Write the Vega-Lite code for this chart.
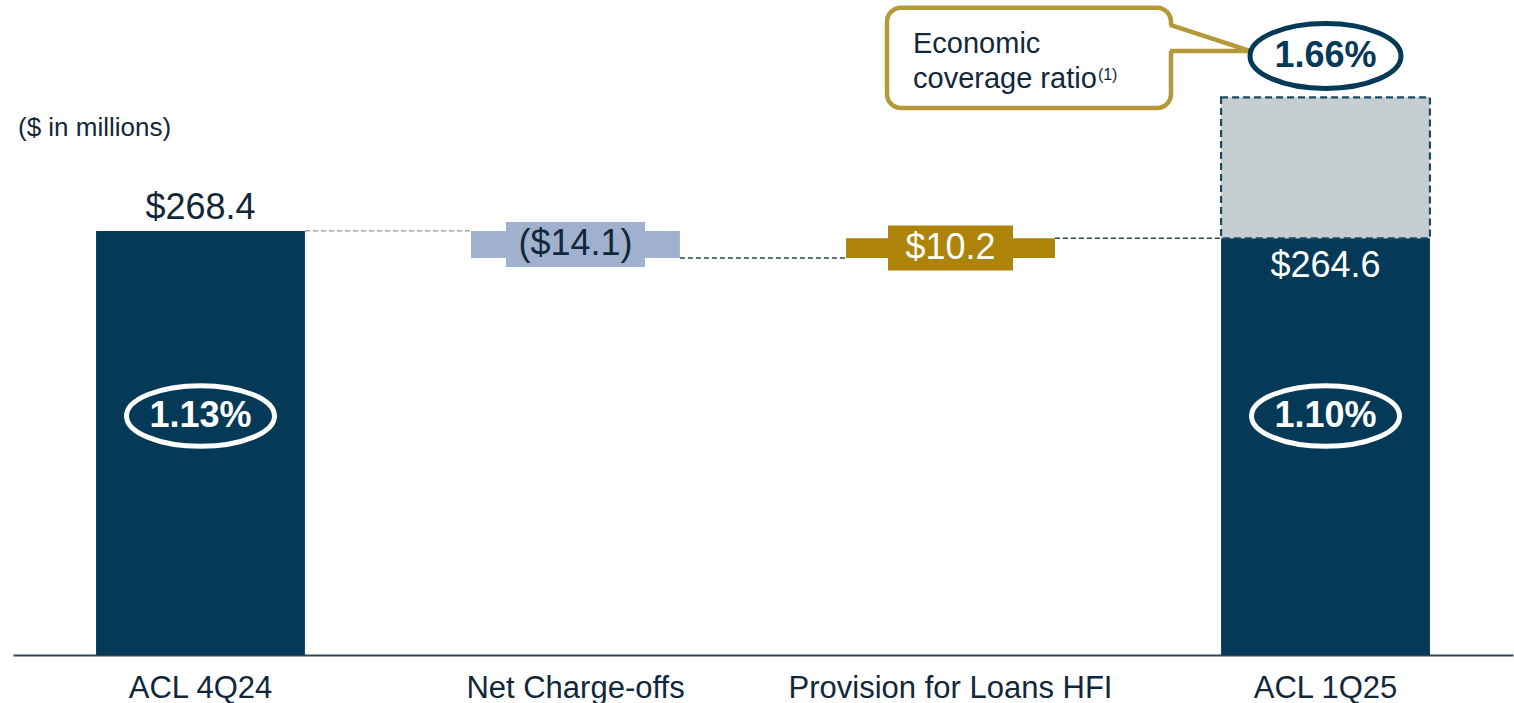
{
  "$schema": "https://vega.github.io/schema/vega-lite/v6.json",
  "width": 1500,
  "height": 655,
  "autosize": {"type": "none"},
  "padding": {"left": 13, "top": 0, "right": 1, "bottom": 48},
  "background": "white",
  "config": {"view": {"stroke": null}, "font": "Liberation Sans"},
  "datasets": {
    "bars": [
      {"cat": "ACL 4Q24", "lo": 0, "hi": 268.4, "kind": "total", "label": "$268.4"},
      {"cat": "Net Charge-offs", "lo": 254.3, "hi": 268.4, "kind": "neg", "label": "($14.1)"},
      {"cat": "Provision for Loans HFI", "lo": 254.3, "hi": 264.6, "kind": "pos", "label": "$10.2"},
      {"cat": "ACL 1Q25", "lo": 0, "hi": 264.6, "kind": "total", "label": "$264.6"}
    ],
    "links": [
      {"from": "ACL 4Q24", "to": "Net Charge-offs", "v": 268.4, "tone": "light"},
      {"from": "Net Charge-offs", "to": "Provision for Loans HFI", "v": 254.3, "tone": "dark"},
      {"from": "Provision for Loans HFI", "to": "ACL 1Q25", "v": 264.6, "tone": "dark"}
    ],
    "econ": [{"cat": "ACL 1Q25", "lo": 264.6, "hi": 338.2}],
    "ratios": [
      {"cat": "ACL 4Q24", "v": 171.8, "txt": "1.13%", "pos": "in"},
      {"cat": "ACL 1Q25", "v": 171.8, "txt": "1.10%", "pos": "in"},
      {"cat": "ACL 1Q25", "v": 359.8, "txt": "1.66%", "pos": "top"}
    ],
    "notes": [
      {"px": 0.0133, "py": 318.0, "t": "($ in millions)", "kind": "unit"},
      {"px": 2.4, "py": 361.4, "t": "Economic", "kind": "call"},
      {"px": 2.4, "py": 343.1, "t": "coverage ratio", "kind": "call"},
      {"px": 2.893, "py": 347.2, "t": "(1)", "kind": "sup"}
    ],
    "callout": [{"x1": 2.3307, "x2": 3.088, "y1": 384.9, "y2": 332.6}],
    "tail": [
      {"seq": 1, "px": 3.0853, "py": 376.0},
      {"seq": 2, "px": 3.2987, "py": 362.4},
      {"seq": 3, "px": 3.0853, "py": 362.4}
    ],
    "tailfill": [
      {"px": 3.072, "top": 376.6, "bot": 362.4},
      {"px": 3.2987, "top": 362.4, "bot": 362.4}
    ]
  },
  "layer": [
    {
      "layer": [
        {
          "data": {"name": "callout"},
          "mark": {"type": "rect", "cornerRadius": 14, "fill": "white", "stroke": "#b5983a", "strokeWidth": 4.5},
          "encoding": {
            "x": {"field": "x1", "type": "quantitative", "scale": {"domain": [0, 4], "nice": false, "zero": false}, "axis": null},
            "x2": {"field": "x2"},
            "y": {"field": "y1", "type": "quantitative", "scale": {"domain": [47, 389], "zero": false, "nice": false}, "axis": null},
            "y2": {"field": "y2"}
          }
        },
        {
          "data": {"name": "tailfill"},
          "mark": {"type": "area", "fill": "white", "opacity": 1},
          "encoding": {
            "x": {"field": "px", "type": "quantitative", "scale": {"domain": [0, 4], "nice": false, "zero": false}, "axis": null},
            "y": {"field": "top", "type": "quantitative", "scale": {"domain": [47, 389], "zero": false, "nice": false}, "axis": null},
            "y2": {"field": "bot"}
          }
        },
        {
          "data": {"name": "tail"},
          "mark": {"type": "line", "stroke": "#b5983a", "strokeWidth": 4.5},
          "encoding": {
            "x": {"field": "px", "type": "quantitative", "scale": {"domain": [0, 4], "nice": false, "zero": false}, "axis": null},
            "y": {"field": "py", "type": "quantitative", "scale": {"domain": [47, 389], "zero": false, "nice": false}, "axis": null},
            "order": {"field": "seq", "type": "quantitative"}
          }
        },
        {
          "data": {"name": "notes"},
          "transform": [{"filter": "datum.kind === 'unit'"}],
          "mark": {"type": "text", "align": "left", "baseline": "alphabetic", "fontSize": 26, "fill": "#13273a"},
          "encoding": {
            "x": {"field": "px", "type": "quantitative", "scale": {"domain": [0, 4], "nice": false, "zero": false}, "axis": null},
            "y": {"field": "py", "type": "quantitative", "scale": {"domain": [47, 389], "zero": false, "nice": false}, "axis": null},
            "text": {"field": "t"}
          }
        },
        {
          "data": {"name": "notes"},
          "transform": [{"filter": "datum.kind === 'call'"}],
          "mark": {"type": "text", "align": "left", "baseline": "alphabetic", "fontSize": 29, "fill": "#13273a"},
          "encoding": {
            "x": {"field": "px", "type": "quantitative", "scale": {"domain": [0, 4], "nice": false, "zero": false}, "axis": null},
            "y": {"field": "py", "type": "quantitative", "scale": {"domain": [47, 389], "zero": false, "nice": false}, "axis": null},
            "text": {"field": "t"}
          }
        },
        {
          "data": {"name": "notes"},
          "transform": [{"filter": "datum.kind === 'sup'"}],
          "mark": {"type": "text", "align": "left", "baseline": "alphabetic", "fontSize": 16, "fill": "#13273a"},
          "encoding": {
            "x": {"field": "px", "type": "quantitative", "scale": {"domain": [0, 4], "nice": false, "zero": false}, "axis": null},
            "y": {"field": "py", "type": "quantitative", "scale": {"domain": [47, 389], "zero": false, "nice": false}, "axis": null},
            "text": {"field": "t"}
          }
        }
      ]
    },
    {
      "layer": [
        {
          "data": {"name": "links"},
          "mark": {"type": "rule", "strokeDash": [5, 3], "strokeWidth": 1.3},
          "encoding": {
            "x": {"field": "from", "type": "nominal", "bandPosition": 0.7785, "scale": {"domain": ["ACL 4Q24", "Net Charge-offs", "Provision for Loans HFI", "ACL 1Q25"], "paddingInner": 0, "paddingOuter": 0}, "axis": {"title": null, "labelFontSize": 31, "labelLimit": 600, "labelColor": "#13273a", "labelFont": "Liberation Sans", "labelPadding": 18, "ticks": false, "domainColor": "#2f4656", "domainWidth": 2, "labelAngle": 0, "grid": false}},
            "x2": {"field": "to", "bandPosition": 0.2215},
            "y": {"field": "v", "type": "quantitative", "scale": {"domain": [47, 389], "zero": false, "nice": false}, "axis": null},
            "color": {"condition": {"test": "datum.tone === 'light'", "value": "#8a959d"}, "value": "#2c4557"}
          }
        },
        {
          "data": {"name": "bars"},
          "mark": {"type": "bar", "width": {"band": 0.557}, "clip": true},
          "encoding": {
            "x": {
              "field": "cat", "type": "nominal",
              "scale": {"domain": ["ACL 4Q24", "Net Charge-offs", "Provision for Loans HFI", "ACL 1Q25"], "paddingInner": 0, "paddingOuter": 0},
              "axis": {"title": null, "labelFontSize": 31, "labelLimit": 600, "labelColor": "#13273a", "labelFont": "Liberation Sans", "labelPadding": 18, "ticks": false, "domainColor": "#2f4656", "domainWidth": 2, "labelAngle": 0, "grid": false}
            },
            "y": {"field": "hi", "type": "quantitative", "scale": {"domain": [47, 389], "zero": false, "nice": false}, "axis": null},
            "y2": {"field": "lo"},
            "color": {"field": "kind", "type": "nominal", "scale": {"domain": ["total", "neg", "pos"], "range": ["#043a58", "#9fb1cf", "#ad8309"]}, "legend": null}
          }
        },
        {
          "data": {"name": "econ"},
          "mark": {"type": "bar", "width": {"band": 0.557}, "fill": "#c6ced2", "stroke": "#1b4a66", "strokeWidth": 2.2, "strokeDash": [7, 4]},
          "encoding": {
            "x": {"field": "cat", "type": "nominal", "scale": {"domain": ["ACL 4Q24", "Net Charge-offs", "Provision for Loans HFI", "ACL 1Q25"], "paddingInner": 0, "paddingOuter": 0}, "axis": {"title": null, "labelFontSize": 31, "labelLimit": 600, "labelColor": "#13273a", "labelFont": "Liberation Sans", "labelPadding": 18, "ticks": false, "domainColor": "#2f4656", "domainWidth": 2, "labelAngle": 0, "grid": false}},
            "y": {"field": "hi", "type": "quantitative", "scale": {"domain": [47, 389], "zero": false, "nice": false}, "axis": null},
            "y2": {"field": "lo"}
          }
        },
        {
          "data": {"name": "bars"},
          "transform": [{"filter": "datum.kind === 'neg'"}, {"fold": ["lo", "hi"], "as": ["end", "val"]}],
          "mark": {"type": "point", "shape": "M -1 -0.324 L 1 -0.324 L 1 0.324 L -1 0.324 Z", "size": 19321, "filled": true, "fill": "#9fb1cf", "strokeWidth": 0, "opacity": 1},
          "encoding": {
            "x": {"field": "cat", "type": "nominal", "scale": {"domain": ["ACL 4Q24", "Net Charge-offs", "Provision for Loans HFI", "ACL 1Q25"], "paddingInner": 0, "paddingOuter": 0}, "axis": {"title": null, "labelFontSize": 31, "labelLimit": 600, "labelColor": "#13273a", "labelFont": "Liberation Sans", "labelPadding": 18, "ticks": false, "domainColor": "#2f4656", "domainWidth": 2, "labelAngle": 0, "grid": false}},
            "y": {"aggregate": "mean", "field": "val", "type": "quantitative", "scale": {"domain": [47, 389], "zero": false, "nice": false}, "axis": null}
          }
        },
        {
          "data": {"name": "bars"},
          "transform": [{"filter": "datum.kind === 'pos'"}, {"fold": ["lo", "hi"], "as": ["end", "val"]}],
          "mark": {"type": "point", "shape": "M -1 -0.36 L 1 -0.36 L 1 0.36 L -1 0.36 Z", "size": 15625, "filled": true, "fill": "#ad8309", "strokeWidth": 0, "opacity": 1},
          "encoding": {
            "x": {"field": "cat", "type": "nominal", "scale": {"domain": ["ACL 4Q24", "Net Charge-offs", "Provision for Loans HFI", "ACL 1Q25"], "paddingInner": 0, "paddingOuter": 0}, "axis": {"title": null, "labelFontSize": 31, "labelLimit": 600, "labelColor": "#13273a", "labelFont": "Liberation Sans", "labelPadding": 18, "ticks": false, "domainColor": "#2f4656", "domainWidth": 2, "labelAngle": 0, "grid": false}},
            "y": {"aggregate": "mean", "field": "val", "type": "quantitative", "scale": {"domain": [47, 389], "zero": false, "nice": false}, "axis": null}
          }
        },
        {
          "data": {"name": "bars"},
          "transform": [{"filter": "datum.kind !== 'total'"}, {"fold": ["lo", "hi"], "as": ["end", "val"]}],
          "mark": {"type": "text", "baseline": "middle", "align": "center", "fontSize": 36},
          "encoding": {
            "x": {"field": "cat", "type": "nominal", "scale": {"domain": ["ACL 4Q24", "Net Charge-offs", "Provision for Loans HFI", "ACL 1Q25"], "paddingInner": 0, "paddingOuter": 0}, "axis": {"title": null, "labelFontSize": 31, "labelLimit": 600, "labelColor": "#13273a", "labelFont": "Liberation Sans", "labelPadding": 18, "ticks": false, "domainColor": "#2f4656", "domainWidth": 2, "labelAngle": 0, "grid": false}},
            "y": {"aggregate": "mean", "field": "val", "type": "quantitative", "scale": {"domain": [47, 389], "zero": false, "nice": false}, "axis": null},
            "text": {"field": "label"},
            "detail": {"field": "kind"},
            "color": {"condition": {"test": "datum.kind === 'pos'", "value": "white"}, "value": "#13273a"}
          }
        },
        {
          "data": {"name": "bars"},
          "transform": [{"filter": "datum.cat === 'ACL 4Q24'"}],
          "mark": {"type": "text", "baseline": "alphabetic", "align": "center", "fontSize": 36, "dy": -12, "fill": "#13273a"},
          "encoding": {
            "x": {"field": "cat", "type": "nominal", "scale": {"domain": ["ACL 4Q24", "Net Charge-offs", "Provision for Loans HFI", "ACL 1Q25"], "paddingInner": 0, "paddingOuter": 0}, "axis": {"title": null, "labelFontSize": 31, "labelLimit": 600, "labelColor": "#13273a", "labelFont": "Liberation Sans", "labelPadding": 18, "ticks": false, "domainColor": "#2f4656", "domainWidth": 2, "labelAngle": 0, "grid": false}},
            "y": {"field": "hi", "type": "quantitative", "scale": {"domain": [47, 389], "zero": false, "nice": false}, "axis": null},
            "text": {"field": "label"}
          }
        },
        {
          "data": {"name": "bars"},
          "transform": [{"filter": "datum.cat === 'ACL 1Q25'"}],
          "mark": {"type": "text", "baseline": "alphabetic", "align": "center", "fontSize": 36, "dy": 39, "fill": "white"},
          "encoding": {
            "x": {"field": "cat", "type": "nominal", "scale": {"domain": ["ACL 4Q24", "Net Charge-offs", "Provision for Loans HFI", "ACL 1Q25"], "paddingInner": 0, "paddingOuter": 0}, "axis": {"title": null, "labelFontSize": 31, "labelLimit": 600, "labelColor": "#13273a", "labelFont": "Liberation Sans", "labelPadding": 18, "ticks": false, "domainColor": "#2f4656", "domainWidth": 2, "labelAngle": 0, "grid": false}},
            "y": {"field": "hi", "type": "quantitative", "scale": {"domain": [47, 389], "zero": false, "nice": false}, "axis": null},
            "text": {"field": "label"}
          }
        },
        {
          "data": {"name": "ratios"},
          "transform": [{"filter": "datum.pos === 'in'"}],
          "mark": {"type": "point", "shape": "M -1 0 C -1 -0.2264 -0.5523 -0.41 0 -0.41 C 0.5523 -0.41 1 -0.2264 1 0 C 1 0.2264 0.5523 0.41 0 0.41 C -0.5523 0.41 -1 0.2264 -1 0 Z", "size": 21904, "filled": false, "stroke": "white", "strokeWidth": 5, "opacity": 1},
          "encoding": {
            "x": {"field": "cat", "type": "nominal", "scale": {"domain": ["ACL 4Q24", "Net Charge-offs", "Provision for Loans HFI", "ACL 1Q25"], "paddingInner": 0, "paddingOuter": 0}, "axis": {"title": null, "labelFontSize": 31, "labelLimit": 600, "labelColor": "#13273a", "labelFont": "Liberation Sans", "labelPadding": 18, "ticks": false, "domainColor": "#2f4656", "domainWidth": 2, "labelAngle": 0, "grid": false}},
            "y": {"field": "v", "type": "quantitative", "scale": {"domain": [47, 389], "zero": false, "nice": false}, "axis": null}
          }
        },
        {
          "data": {"name": "ratios"},
          "transform": [{"filter": "datum.pos === 'top'"}],
          "mark": {"type": "point", "shape": "M -1 0 C -1 -0.2375 -0.5523 -0.43 0 -0.43 C 0.5523 -0.43 1 -0.2375 1 0 C 1 0.2375 0.5523 0.43 0 0.43 C -0.5523 0.43 -1 0.2375 -1 0 Z", "size": 22801, "filled": true, "fill": "white", "stroke": "#043a58", "strokeWidth": 5, "opacity": 1},
          "encoding": {
            "x": {"field": "cat", "type": "nominal", "scale": {"domain": ["ACL 4Q24", "Net Charge-offs", "Provision for Loans HFI", "ACL 1Q25"], "paddingInner": 0, "paddingOuter": 0}, "axis": {"title": null, "labelFontSize": 31, "labelLimit": 600, "labelColor": "#13273a", "labelFont": "Liberation Sans", "labelPadding": 18, "ticks": false, "domainColor": "#2f4656", "domainWidth": 2, "labelAngle": 0, "grid": false}},
            "y": {"field": "v", "type": "quantitative", "scale": {"domain": [47, 389], "zero": false, "nice": false}, "axis": null}
          }
        },
        {
          "data": {"name": "ratios"},
          "mark": {"type": "text", "baseline": "middle", "align": "center", "fontSize": 36, "fontWeight": "bold"},
          "encoding": {
            "x": {"field": "cat", "type": "nominal", "scale": {"domain": ["ACL 4Q24", "Net Charge-offs", "Provision for Loans HFI", "ACL 1Q25"], "paddingInner": 0, "paddingOuter": 0}, "axis": {"title": null, "labelFontSize": 31, "labelLimit": 600, "labelColor": "#13273a", "labelFont": "Liberation Sans", "labelPadding": 18, "ticks": false, "domainColor": "#2f4656", "domainWidth": 2, "labelAngle": 0, "grid": false}},
            "y": {"field": "v", "type": "quantitative", "scale": {"domain": [47, 389], "zero": false, "nice": false}, "axis": null},
            "text": {"field": "txt"},
            "color": {"condition": {"test": "datum.pos === 'top'", "value": "#043a58"}, "value": "white"}
          }
        }
      ]
    }
  ],
  "resolve": {"scale": {"x": "independent"}}
}
